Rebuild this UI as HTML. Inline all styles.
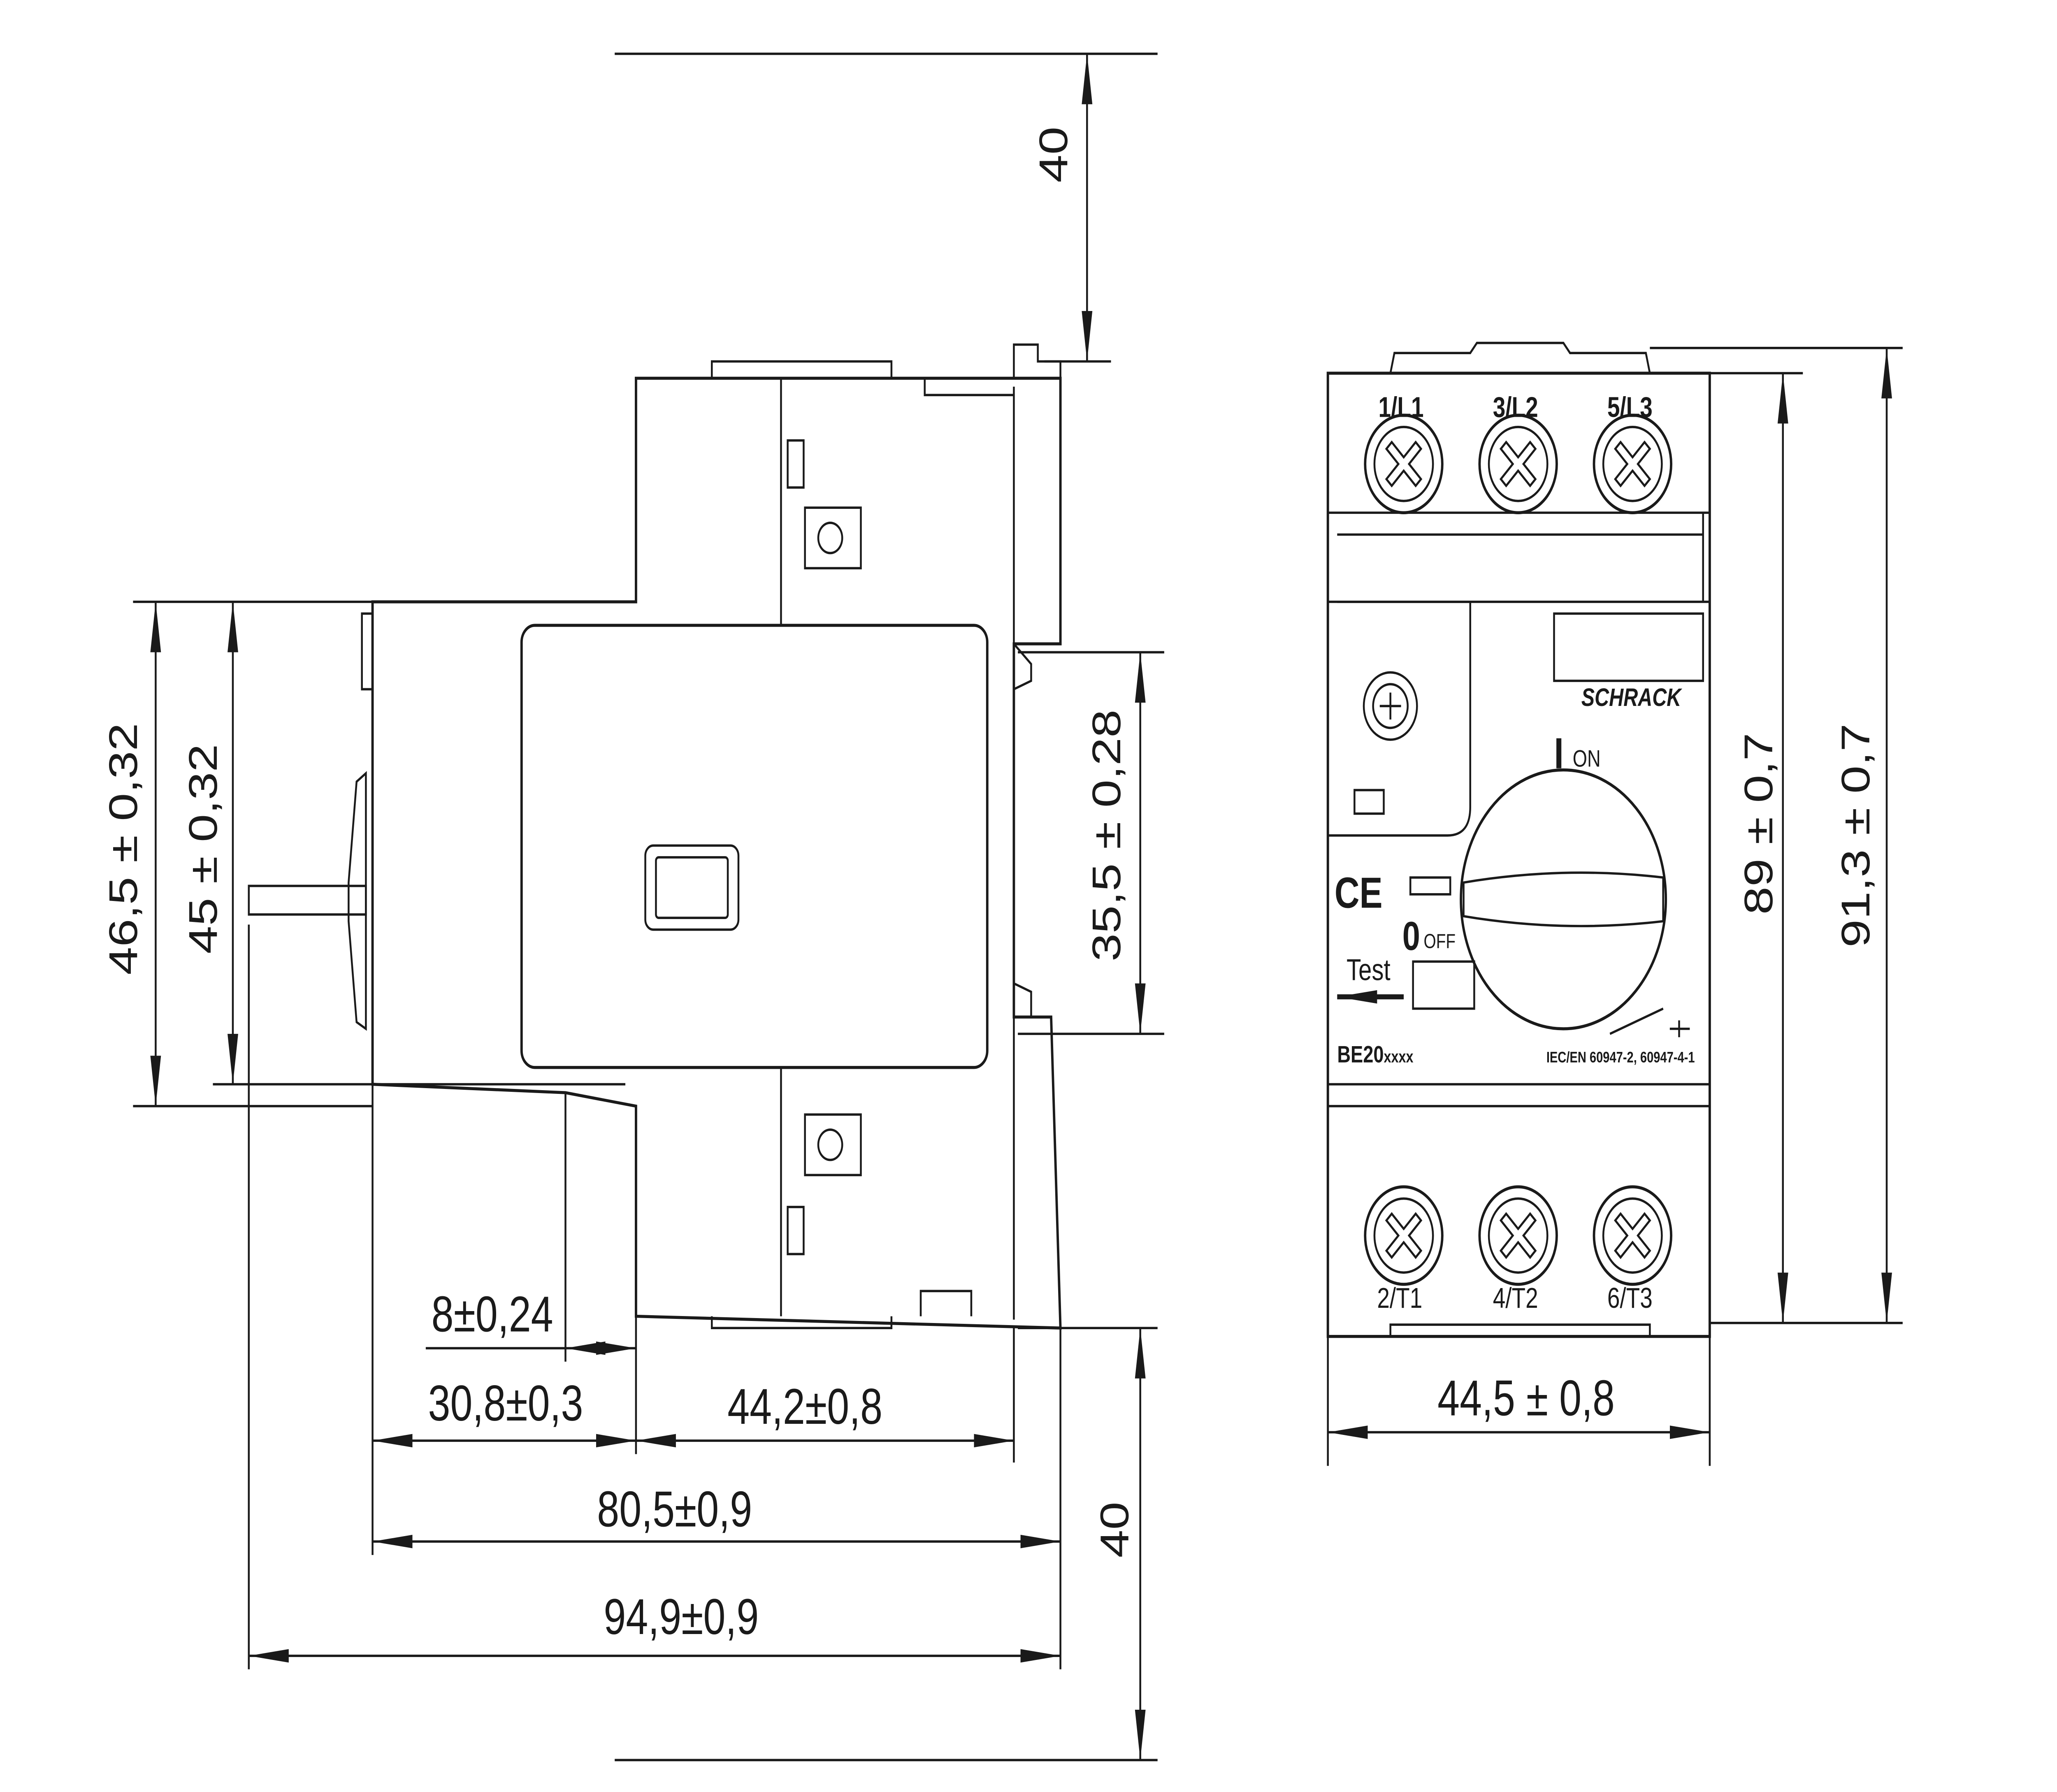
<!DOCTYPE html>
<html><head><meta charset="utf-8">
<style>
html,body{margin:0;padding:0;background:#fff;width:100%;height:100%;overflow:hidden;}
svg{display:block;position:fixed;left:0;top:0;width:100vw;height:100vh;}
text{font-family:"Liberation Sans",sans-serif;fill:#1a1a1a;}
</style></head>
<body>
<svg viewBox="0 0 1546 1066" preserveAspectRatio="none" xmlns="http://www.w3.org/2000/svg">
<defs>
<marker id="a" viewBox="0 0 30 10" refX="30" refY="5" markerWidth="30" markerHeight="10" markerUnits="userSpaceOnUse" orient="auto-start-reverse">
<path d="M0,1 L30,5 L0,9 Z" fill="#1a1a1a"/></marker>
<g id="t" stroke="#1a1a1a" stroke-width="1.4" fill="none"><circle r="29" stroke-width="1.8"/><circle r="22"/><path d="M-13,-9 L-9,-13 L0,-4 L9,-13 L13,-9 L4,0 L13,9 L9,13 L0,4 L-9,13 L-13,9 L-4,0 Z"/></g>
</defs>
<g stroke="#1a1a1a" stroke-width="1.4" fill="none">
<line x1="462" y1="32" x2="870" y2="32"/>
<line x1="785" y1="215" x2="835" y2="215"/>
<line x1="817" y1="32" x2="817" y2="215" marker-start="url(#a)" marker-end="url(#a)"/>
<line x1="462" y1="1047" x2="870" y2="1047"/>
<line x1="765" y1="790" x2="870" y2="790"/>
<line x1="857" y1="790" x2="857" y2="1047" marker-start="url(#a)" marker-end="url(#a)"/>
<path d="M280,358 L478,358 L478,225 L797,225 L797,383 L762,383 L762,605 L790,605 L797,790 L478,783 L478,658 L425,650 L280,645 Z" stroke-width="1.8"/>
<line x1="587" y1="225" x2="587" y2="372"/>
<line x1="587" y1="635" x2="587" y2="783"/>
<line x1="762" y1="230" x2="762" y2="383"/>
<line x1="762" y1="605" x2="762" y2="785"/>
<path d="M535,225 L535,215 L670,215 L670,225 M762,225 L762,205 L780,205 L780,215 L797,215 L797,225"/>
<path d="M695,225 L695,235 L762,235"/>
<path d="M692,783 L692,768 L730,768 L730,783"/>
<path d="M535,783 L535,790 L670,790 L670,783"/>
<rect x="392" y="372" width="350" height="263" rx="10" stroke-width="1.8"/>
<rect x="485" y="503" width="70" height="50" rx="6"/>
<rect x="493" y="510" width="54" height="36" rx="2"/>
<rect x="605" y="302" width="42" height="36"/><circle cx="624" cy="320" r="9"/>
<rect x="605" y="663" width="42" height="36"/><circle cx="624" cy="681" r="9"/>
<rect x="592" y="262" width="12" height="28"/>
<rect x="592" y="718" width="12" height="28"/>
<path d="M762,383 L775,395 L775,405 L762,410 M762,585 L775,590 L775,605"/>
<rect x="187" y="527" width="88" height="17"/>
<path d="M275,460 L268,465 L262,525 L262,548 L268,608 L275,612 Z"/>
<rect x="272" y="365" width="8" height="45"/>
<line x1="100" y1="358" x2="280" y2="358"/>
<line x1="100" y1="658" x2="280" y2="658"/>
<line x1="160" y1="645" x2="470" y2="645"/>
<line x1="117" y1="358" x2="117" y2="658" marker-start="url(#a)" marker-end="url(#a)"/>
<line x1="175" y1="358" x2="175" y2="645" marker-start="url(#a)" marker-end="url(#a)"/>
<line x1="765" y1="388" x2="875" y2="388"/>
<line x1="765" y1="615" x2="875" y2="615"/>
<line x1="857" y1="388" x2="857" y2="615" marker-start="url(#a)" marker-end="url(#a)"/>
<line x1="425" y1="650" x2="425" y2="810"/>
<line x1="280" y1="645" x2="280" y2="925"/>
<line x1="478" y1="658" x2="478" y2="865"/>
<line x1="762" y1="790" x2="762" y2="870"/>
<line x1="797" y1="790" x2="797" y2="993"/>
<line x1="187" y1="550" x2="187" y2="993"/>
<line x1="320" y1="802" x2="425" y2="802"/>
<line x1="425" y1="802" x2="478" y2="802" marker-start="url(#a)" marker-end="url(#a)"/>
<line x1="280" y1="857" x2="478" y2="857" marker-start="url(#a)" marker-end="url(#a)"/>
<line x1="478" y1="857" x2="762" y2="857" marker-start="url(#a)" marker-end="url(#a)"/>
<line x1="280" y1="917" x2="797" y2="917" marker-start="url(#a)" marker-end="url(#a)"/>
<line x1="187" y1="985" x2="797" y2="985" marker-start="url(#a)" marker-end="url(#a)"/>
<rect x="998" y="222" width="287" height="573" stroke-width="1.8"/>
<path d="M1045,222 L1048,210 L1105,210 L1110,204 L1175,204 L1180,210 L1237,210 L1240,222"/>
<line x1="998" y1="305" x2="1285" y2="305"/>
<line x1="1005" y1="318" x2="1280" y2="318"/>
<line x1="1280" y1="305" x2="1280" y2="358"/>
<line x1="1005" y1="358" x2="1285" y2="358"/>
<path d="M998,358 L1105,358 L1105,480 Q1105,497 1088,497 L998,497"/>
<rect x="1168" y="365" width="112" height="40"/>
<circle cx="1045" cy="420" r="20"/><circle cx="1045" cy="420" r="13"/>
<path d="M1037,420 L1053,420 M1045,412 L1045,428"/>
<rect x="1018" y="470" width="22" height="14"/>
<circle cx="1175" cy="535" r="77" stroke-width="1.8"/>
<path d="M1100,525 Q1175,515 1250,522 L1250,548 Q1175,555 1100,545 Z" fill="#fff"/>
<rect x="1062" y="572" width="46" height="28"/>
<rect x="1060" y="522" width="30" height="10"/>
<path d="M1210,615 L1250,600 M1255,612 L1270,612 M1262,607 L1262,617"/>
<line x1="998" y1="645" x2="1285" y2="645"/>
<line x1="998" y1="658" x2="1285" y2="658"/>
<path d="M1045,795 L1045,788 L1240,788 L1240,795"/>
<line x1="1240" y1="207" x2="1430" y2="207"/>
<line x1="1285" y1="222" x2="1355" y2="222"/>
<line x1="1285" y1="787" x2="1430" y2="787"/>
<line x1="1340" y1="222" x2="1340" y2="787" marker-start="url(#a)" marker-end="url(#a)"/>
<line x1="1418" y1="207" x2="1418" y2="787" marker-start="url(#a)" marker-end="url(#a)"/>
<line x1="998" y1="795" x2="998" y2="872"/>
<line x1="1285" y1="795" x2="1285" y2="872"/>
<line x1="998" y1="852" x2="1285" y2="852" marker-start="url(#a)" marker-end="url(#a)"/>
</g>
<use href="#t" x="1055" y="276"/><use href="#t" x="1141" y="276"/><use href="#t" x="1227" y="276"/>
<use href="#t" x="1055" y="735"/><use href="#t" x="1141" y="735"/><use href="#t" x="1227" y="735"/>
<path d="M1005,593 L1055,593" stroke="#1a1a1a" stroke-width="3" marker-start="url(#a)"/>
<g font-size="30">
<text transform="translate(802,92) rotate(-90)" text-anchor="middle">40</text>
<text transform="translate(848,910) rotate(-90)" text-anchor="middle">40</text>
<text transform="translate(103,505) rotate(-90)" text-anchor="middle">46,5 ± 0,32</text>
<text transform="translate(163,505) rotate(-90)" text-anchor="middle">45 ± 0,32</text>
<text transform="translate(842,497) rotate(-90)" text-anchor="middle">35,5 ± 0,28</text>
<text transform="translate(1332,490) rotate(-90)" text-anchor="middle">89 ± 0,7</text>
<text transform="translate(1405,497) rotate(-90)" text-anchor="middle">91,3 ± 0,7</text>
<text x="370" y="792" text-anchor="middle">8±0,24</text>
<text x="380" y="845" text-anchor="middle">30,8±0,3</text>
<text x="605" y="847" text-anchor="middle">44,2±0,8</text>
<text x="507" y="908" text-anchor="middle">80,5±0,9</text>
<text x="512" y="972" text-anchor="middle">94,9±0,9</text>
<text x="1147" y="842" text-anchor="middle">44,5 ± 0,8</text>
</g>
<g font-size="17">
<text x="1053" y="248" text-anchor="middle" font-weight="bold">1/L1</text>
<text x="1139" y="248" text-anchor="middle" font-weight="bold">3/L2</text>
<text x="1225" y="248" text-anchor="middle" font-weight="bold">5/L3</text>
<text x="1052" y="778" text-anchor="middle">2/T1</text>
<text x="1139" y="778" text-anchor="middle">4/T2</text>
<text x="1225" y="778" text-anchor="middle">6/T3</text>
<text x="1226" y="420" text-anchor="middle" font-weight="bold" font-style="italic" font-size="15">SCHRACK</text>
<text x="1168" y="457" font-size="26" font-weight="bold">I</text><text x="1182" y="456" font-size="14">ON</text>
<text x="1003" y="540" font-size="26" font-weight="bold">CE</text>
<text x="1054" y="565" font-size="24" font-weight="bold">0</text><text x="1070" y="564" font-size="12">OFF</text>
<text x="1012" y="583" font-size="18">Test</text>
<text x="1005" y="632" font-size="14" font-weight="bold">BE20<tspan font-size="10">xxxx</tspan></text>
<text x="1218" y="632" font-size="9" font-weight="bold" text-anchor="middle">IEC/EN 60947-2, 60947-4-1</text>
</g>
</svg>
</body></html>
